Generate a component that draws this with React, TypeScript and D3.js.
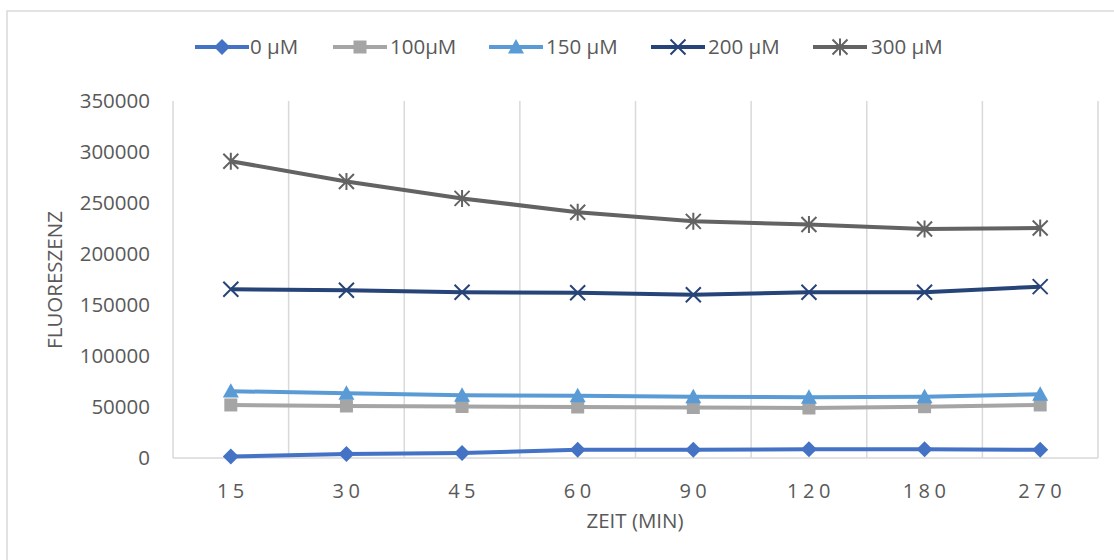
import React from "react";
import * as d3 from "d3";

const categories = ["15", "30", "45", "60", "90", "120", "180", "270"];
const seriesNames = ["0 µM", "100µM", "150 µM", "200 µM", "300 µM"];
const values0 = [1500, 4000, 5000, 8000, 8000, 8500, 8500, 8000];
const values100 = [52000, 51000, 50500, 50000, 49500, 49000, 50300, 52000];
const values150 = [65500, 63500, 61500, 61000, 60000, 59500, 60000, 62500];
const values200 = [165500, 164500, 162500, 162000, 160000, 162500, 162500, 168000];
const values300 = [291000, 271000, 254500, 241000, 232000, 229000, 224500, 225500];
const yTicks = [0, 50000, 100000, 150000, 200000, 250000, 300000, 350000];
const colors = ["#4472C4", "#A5A5A5", "#5B9BD5", "#264478", "#636363"];
const markers = ["diamond", "square", "triangle", "x", "star"];

const W = 1114;
const H = 560;
const plot = { left: 173, right: 1098, top: 101, bottom: 458 };
const FONT = "'Open Sans', 'Noto Sans', sans-serif";
const TEXT = "#595959";

function Marker({ kind, x, y, color }: { kind: string; x: number; y: number; color: string }) {
  if (kind === "diamond") {
    const r = 8;
    return <path d={`M${x},${y - r}L${x + r},${y}L${x},${y + r}L${x - r},${y}Z`} fill={color} />;
  }
  if (kind === "square") {
    const r = 6.5;
    return <rect x={x - r} y={y - r} width={2 * r} height={2 * r} fill={color} />;
  }
  if (kind === "triangle") {
    const r = 8;
    return <path d={`M${x},${y - r}L${x + r},${y + r * 0.8}L${x - r},${y + r * 0.8}Z`} fill={color} />;
  }
  if (kind === "x") {
    const r = 7.5;
    return (
      <path d={`M${x - r},${y - r}L${x + r},${y + r}M${x - r},${y + r}L${x + r},${y - r}`} stroke={color} strokeWidth={2} fill="none" />
    );
  }
  const r = 7.5;
  return (
    <path
      d={`M${x - r},${y - r}L${x + r},${y + r}M${x - r},${y + r}L${x + r},${y - r}M${x},${y - r - 1}L${x},${y + r + 1}`}
      stroke={color}
      strokeWidth={2}
      fill="none"
    />
  );
}

export default function App() {
  const allSeries = [values0, values100, values150, values200, values300];
  const x = d3.scaleBand<string>().domain(categories).range([plot.left, plot.right]);
  const y = d3.scaleLinear().domain([0, 350000]).range([plot.bottom, plot.top]);
  const cx = (c: string) => (x(c) as number) + x.bandwidth() / 2;
  const line = d3
    .line<number>()
    .x((_, i) => cx(categories[i]))
    .y((d) => y(d));

  const gridX = categories.map((c) => x(c) as number).concat([plot.right]);

  const legendItems = [
    { lx: 195, tx: 250 },
    { lx: 333, tx: 390 },
    { lx: 489, tx: 546 },
    { lx: 651, tx: 708 },
    { lx: 813, tx: 871 },
  ];

  return (
    <svg width={W} height={H} style={{ position: "absolute", left: 0, top: 0 }} fontFamily={FONT}>
      <rect x={0} y={0} width={W} height={H} fill="#fff" />
      <rect x={7} y={11} width={W + 20} height={H + 20} fill="none" stroke="#d9d9d9" strokeWidth={1.5} />

      {gridX.map((gx, i) => (
        <line key={i} x1={gx} x2={gx} y1={plot.top} y2={plot.bottom} stroke="#d9d9d9" strokeWidth={1.5} />
      ))}
      <line x1={plot.left} x2={plot.right} y1={plot.bottom} y2={plot.bottom} stroke="#d9d9d9" strokeWidth={1.5} />

      {yTicks.map((t) => (
        <text key={t} x={150} y={y(t)} dy="0.35em" textAnchor="end" fontSize={20.5} fill={TEXT}>
          {t}
        </text>
      ))}
      {categories.map((c) => (
        <text key={c} x={cx(c) + 2} y={491} dy="0.35em" textAnchor="middle" fontSize={20} fill={TEXT} letterSpacing={4.5}>
          {c}
        </text>
      ))}

      <text x={635} y={521} dy="0.35em" textAnchor="middle" fontSize={20.5} fill={TEXT}>
        ZEIT (MIN)
      </text>
      <text transform={`translate(55,280) rotate(-90)`} dy="0.35em" textAnchor="middle" fontSize={20.5} fill={TEXT}>
        FLUORESZENZ
      </text>

      {allSeries.map((vals, si) => (
        <g key={si}>
          <path d={line(vals) || ""} fill="none" stroke={colors[si]} strokeWidth={4} strokeLinejoin="round" />
          {vals.map((v, i) => (
            <Marker key={i} kind={markers[si]} x={cx(categories[i])} y={y(v)} color={colors[si]} />
          ))}
        </g>
      ))}

      {legendItems.map((it, si) => (
        <g key={si}>
          <line x1={it.lx} x2={it.lx + 54} y1={47} y2={47} stroke={colors[si]} strokeWidth={4} />
          <Marker kind={markers[si]} x={it.lx + 27} y={47} color={colors[si]} />
          <text x={it.tx} y={47} dy="0.35em" fontSize={20.5} fill={TEXT}>
            {seriesNames[si]}
          </text>
        </g>
      ))}
    </svg>
  );
}
